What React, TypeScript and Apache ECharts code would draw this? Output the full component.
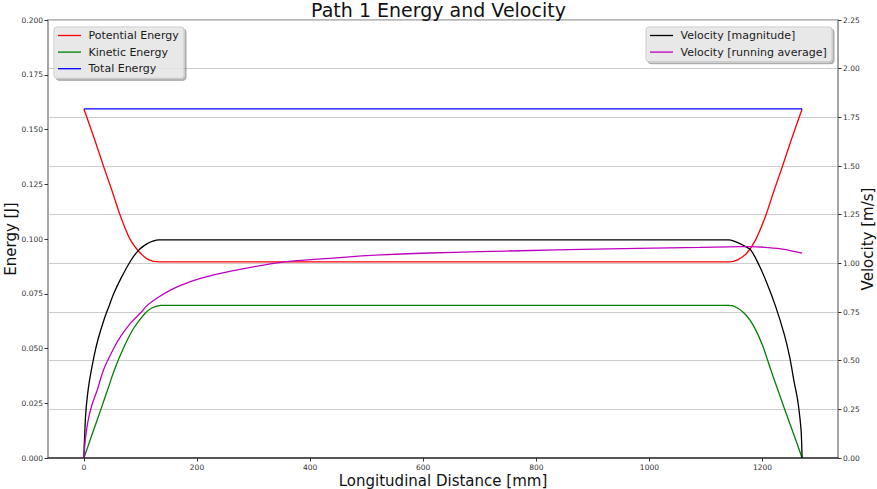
import React, { useEffect, useRef } from "react";
import * as echarts from "echarts";

// ---- data ----
const titleText = "Path 1 Energy and Velocity";
const xTicks = [0, 200, 400, 600, 800, 1000, 1200];

const energyNames = ["Potential Energy", "Kinetic Energy", "Total Energy"];
const velocityNames = ["Velocity [magnitude]", "Velocity [running average]"];

const potentialX = [0, 20, 35, 50, 65, 82, 100, 115, 133, 1141, 1156, 1172, 1188, 1205, 1220, 1235, 1250, 1270];
const potentialY = [0.1594, 0.1446, 0.133, 0.1218, 0.1102, 0.0997, 0.0935, 0.0905, 0.0896, 0.0896, 0.0905, 0.0935, 0.0997, 0.1102, 0.1218, 0.133, 0.1446, 0.1594];

const kineticX = [0, 15, 30, 45, 55, 71, 85, 95, 108, 120, 136, 1141, 1155, 1170, 1185, 1200, 1215, 1230, 1245, 1255, 1270];
const kineticY = [0, 0.0112, 0.0222, 0.0335, 0.041, 0.0508, 0.058, 0.0618, 0.066, 0.0685, 0.0697, 0.0697, 0.0686, 0.0655, 0.06, 0.0515, 0.04, 0.029, 0.018, 0.011, 0];

const totalX = [0, 1270];
const totalY = [0.1594, 0.1594];

const velocityX = [0, 0.5, 1.3, 3, 6, 10, 17.7, 25, 35.4, 45, 53, 65, 82.5, 97, 112, 122, 133, 1141, 1152, 1165, 1179, 1194, 1208, 1223, 1238, 1248, 1256, 1262, 1266, 1268.5, 1270];
const velocityY = [0, 0.06, 0.109, 0.22, 0.315, 0.4, 0.52, 0.61, 0.709, 0.785, 0.846, 0.92, 1.012, 1.068, 1.101, 1.114, 1.12, 1.12, 1.112, 1.094, 1.069, 0.99, 0.897, 0.78, 0.64, 0.52, 0.39, 0.3, 0.21, 0.13, 0];

const averageX = [0, 2, 5, 9, 15, 23.6, 35, 53, 65, 82.5, 100, 112, 133, 153, 171, 206, 260, 348, 440, 525, 610, 700, 790, 880, 980, 1090, 1141, 1179, 1210, 1238, 1270];
const averageY = [0, 0.08, 0.15, 0.215, 0.28, 0.349, 0.455, 0.565, 0.625, 0.693, 0.745, 0.784, 0.828, 0.862, 0.887, 0.923, 0.96, 1.005, 1.027, 1.043, 1.053, 1.06, 1.066, 1.072, 1.077, 1.082, 1.085, 1.086, 1.081, 1.072, 1.052];

const energyColors = ["#ff0000", "#008000", "#0000ff"];
const velocityColors = ["#000000", "#bf00bf"];

const FONT = "DejaVu Sans";

export default function App() {
  const ref = useRef<HTMLDivElement>(null);

  useEffect(() => {
    const chart = echarts.init(ref.current!, null, { renderer: "svg" });
    const zip = (xs: number[], ys: number[]) => xs.map((x, i) => [x, ys[i]]);
    const mk = (name: string, xs: number[], ys: number[], color: string, yAxisIndex: number) => ({
      name,
      type: "line",
      data: zip(xs, ys),
      yAxisIndex,
      symbol: "none",
      showSymbol: false,
      smooth: 0.3,
      lineStyle: { color, width: 1.3 },
      itemStyle: { color },
      emphasis: { disabled: true },
      silent: true,
    });

    const legendBox = (x: number, y: number, w: number, names: string[], colors: string[]) => {
      const h = names.length * 16.6 + 1.5;
      const children: any[] = [
        {
          type: "rect",
          z: 100,
          shape: { x, y, width: w, height: h, r: 3 },
          style: {
            fill: "rgba(236,236,236,0.82)",
            stroke: "#c8c8c8",
            lineWidth: 1,
            shadowColor: "rgba(0,0,0,0.35)",
            shadowOffsetX: 2,
            shadowOffsetY: 2,
            shadowBlur: 1,
          },
        },
      ];
      names.forEach((n, i) => {
        const cy = y + 8.5 + i * 16.6;
        children.push({
          type: "line",
          z: 101,
          shape: { x1: x + 4, y1: cy, x2: x + 27, y2: cy },
          style: { stroke: colors[i], lineWidth: 1.3 },
        });
        children.push({
          type: "text",
          z: 101,
          x: x + 34.5,
          y: cy,
          style: {
            text: n,
            fill: "#1a1a1a",
            fontSize: 11,
            fontFamily: FONT,
            align: "left",
            verticalAlign: "middle",
          },
        });
      });
      return { type: "group", silent: true, z: 100, children };
    };

    chart.setOption({
      animation: false,
      backgroundColor: "#ffffff",
      textStyle: { fontFamily: FONT },
      title: {
        text: titleText,
        left: "center",
        top: 0,
        padding: 0,
        textStyle: { fontFamily: FONT, fontSize: 19, fontWeight: "normal", color: "#111" },
      },
      grid: {
        left: 48,
        right: 39,
        top: 20,
        bottom: 31,
        containLabel: false,
        outerBoundsMode: "none",
        show: true,
        borderColor: "#a0a0a0",
        borderWidth: 1.5,
        backgroundColor: "transparent",
      },
      xAxis: {
        type: "value",
        min: -63.5,
        max: 1333.5,
        name: "Longitudinal Distance [mm]",
        nameLocation: "middle",
        nameGap: 15,
        nameMoveOverlap: false,
        nameTextStyle: { fontFamily: FONT, fontSize: 15, color: "#111" },
        axisLine: { show: true, onZero: false, lineStyle: { color: "#333", width: 1.5 } },
        axisTick: { show: true, length: 3.5, customValues: xTicks, lineStyle: { color: "#333" } },
        axisLabel: {
          customValues: xTicks,
          fontSize: 7.5,
          color: "#333",
          margin: 5,
          fontFamily: FONT,
          formatter: (v: number) => String(v),
        },
        splitLine: { show: false },
      },
      yAxis: [
        {
          type: "value",
          min: 0,
          max: 0.2,
          interval: 0.025,
          name: "Energy [J]",
          nameLocation: "middle",
          nameGap: 30,
          nameRotate: 90,
          nameMoveOverlap: false,
          nameTextStyle: { fontFamily: FONT, fontSize: 15, color: "#111" },
          axisLine: { show: true, onZero: false, lineStyle: { color: "#a0a0a0", width: 1.5 } },
          axisTick: { show: true, length: 3.5, lineStyle: { color: "#333" } },
          axisLabel: { fontSize: 7.5, color: "#333", margin: 5, fontFamily: FONT, formatter: (v: number) => v.toFixed(3) },
          splitLine: { show: false },
        },
        {
          type: "value",
          min: 0,
          max: 2.25,
          interval: 0.25,
          position: "right",
          name: "Velocity [m/s]",
          nameLocation: "middle",
          nameGap: 22,
          nameRotate: 90,
          nameMoveOverlap: false,
          nameTextStyle: { fontFamily: FONT, fontSize: 15, color: "#111" },
          axisLine: { show: true, onZero: false, lineStyle: { color: "#a0a0a0", width: 1.5 } },
          axisTick: { show: true, length: 3.5, lineStyle: { color: "#333" } },
          axisLabel: { fontSize: 7.5, color: "#333", margin: 5, fontFamily: FONT, formatter: (v: number) => v.toFixed(2) },
          splitLine: { show: true, lineStyle: { color: "#cccccc", width: 1 } },
        },
      ],
      series: [
        mk(energyNames[0], potentialX, potentialY, energyColors[0], 0),
        mk(energyNames[1], kineticX, kineticY, energyColors[1], 0),
        mk(energyNames[2], totalX, totalY, energyColors[2], 0),
        mk(velocityNames[0], velocityX, velocityY, velocityColors[0], 1),
        mk(velocityNames[1], averageX, averageY, velocityColors[1], 1),
      ],
      graphic: [
        legendBox(54, 27, 130, energyNames, energyColors),
        legendBox(646, 27, 186, velocityNames, velocityColors),
      ],
    });

    return () => chart.dispose();
  }, []);

  return <div ref={ref} style={{ position: "absolute", left: 0, top: 0, width: 877, height: 489 }} />;
}
